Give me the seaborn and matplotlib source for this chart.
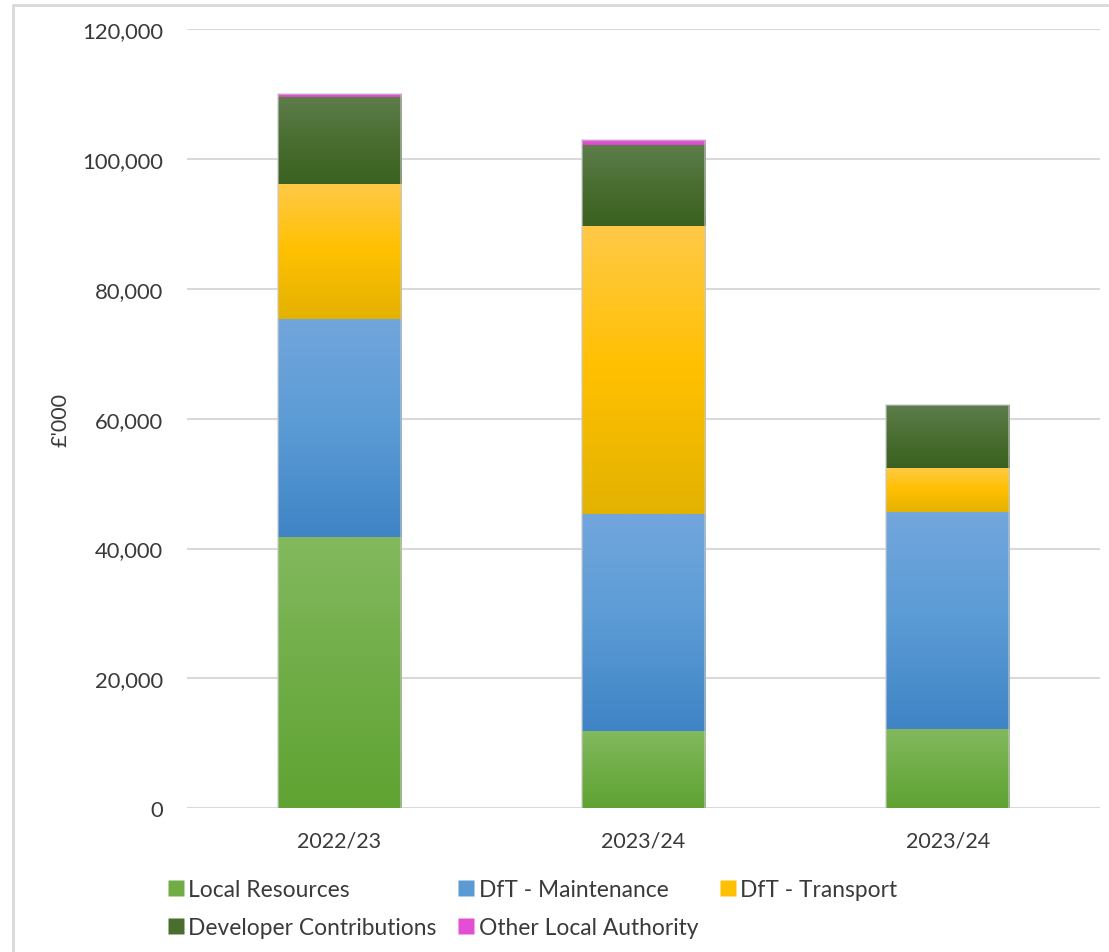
import numpy as np
import pandas as pd
import matplotlib
matplotlib.use("Agg")
import matplotlib.pyplot as plt
from matplotlib.colors import LinearSegmentedColormap
from matplotlib.lines import Line2D
from matplotlib.ticker import FuncFormatter
import seaborn as sns

# Capital funding by source, £'000
years = ["2022/23", "2023/24", "2023/24 "]
year_labels = ["2022/23", "2023/24", "2023/24"]
local_resources = [41700, 11850, 12200]
dft_maintenance = [33600, 33450, 33400]
dft_transport = [20800, 44300, 6800]
developer_contributions = [13400, 12550, 9750]
other_local_authority = [450, 700, 0]

series_names = ["Local Resources", "DfT - Maintenance", "DfT - Transport",
                "Developer Contributions", "Other Local Authority"]
series_values = [local_resources, dft_maintenance, dft_transport,
                 developer_contributions, other_local_authority]

# gradient stops (top, middle, bottom) and legend swatch colour per source
gradients = {
    "Local Resources": ("#82b95e", "#70ad47", "#5fa332"),
    "DfT - Maintenance": ("#72a6dd", "#5b9bd5", "#3f84c6"),
    "DfT - Transport": ("#ffc947", "#ffc000", "#e3b200"),
    "Developer Contributions": ("#5d7d4b", "#4a6e32", "#3a611f"),
    "Other Local Authority": ("#e35ad6", "#e050d2", "#d845c9"),
}
swatch = {
    "Local Resources": "#70ad47",
    "DfT - Maintenance": "#5b9bd5",
    "DfT - Transport": "#ffc000",
    "Developer Contributions": "#4a6e2f",
    "Other Local Authority": "#e34fd3",
}

sns.set_theme(style="white")
plt.rcParams["font.family"] = ["Lato", "DejaVu Sans"]
text_color = "#3a3a3a"
grid_color = "#d9d9d9"

fig = plt.figure(figsize=(11.09, 9.53), dpi=100)
ax = fig.add_axes([0.1686, 0.1508, 0.9919 - 0.1686, 0.9685 - 0.1508])

bottoms = np.zeros(len(years))
segments = []
for name, vals in zip(series_names, series_values):
    df = pd.DataFrame({"year": years, "value": vals})
    n_before = len(ax.patches)
    sns.barplot(data=df, x="year", y="value", order=years, width=0.405,
                bottom=bottoms.copy(), color=swatch[name], ax=ax,
                edgecolor="none", linewidth=0, zorder=3)
    for p, v in zip(ax.patches[n_before:], vals):
        segments.append((p, name, v))
    bottoms = bottoms + np.array(vals, dtype=float)

ax.set_xlim(-0.5, 2.5)
ax.set_ylim(0, 120000)

# Replace flat fills with vertical gradients clipped to each bar
grad = np.linspace(0, 1, 256).reshape(-1, 1)
for p, name, v in segments:
    if v <= 0:
        p.set_visible(False)
        continue
    cmap = LinearSegmentedColormap.from_list(name, list(gradients[name]))
    x0, y0 = p.get_x(), p.get_y()
    w, h = p.get_width(), p.get_height()
    im = ax.imshow(grad, cmap=cmap, aspect="auto", origin="upper",
                   extent=(x0, x0 + w, y0, y0 + h), zorder=3.5,
                   interpolation="bilinear")
    im.set_clip_path(p)
    p.set_facecolor("none")

# soft outline around each stacked column
for i in range(len(years)):
    col = [p for p, _, v in segments if v > 0 and abs(p.get_x() + p.get_width() / 2 - i) < 0.01]
    if col:
        x0 = col[0].get_x()
        w = col[0].get_width()
        ax.plot([x0, x0, x0 + w, x0 + w], [0, bottoms[i], bottoms[i], 0],
                color="#c8c8c8", lw=1.2, alpha=0.7, zorder=3.6,
                solid_joinstyle="miter")

ax.set_xlim(-0.5, 2.5)
ax.set_ylim(0, 120000)
ax.set_yticks(np.arange(0, 120001, 20000))
ax.yaxis.set_major_formatter(FuncFormatter(lambda v, _: f"{int(v):,}"))
ax.set_xticks(range(len(years)))
ax.set_xticklabels(year_labels)
ax.grid(axis="y", color=grid_color, lw=1.5, zorder=0)
ax.grid(axis="x", visible=False)
ax.set_axisbelow(True)
for s in ax.spines.values():
    s.set_visible(False)
ax.tick_params(axis="y", length=0, pad=17, labelsize=15.8, labelcolor=text_color)
ax.tick_params(axis="x", length=0, pad=16, labelsize=15.5, labelcolor=text_color)
ax.set_xlabel("")
ax.set_ylabel("£'000", fontsize=15.5, color=text_color, labelpad=0)
ax.yaxis.set_label_coords(-0.128, 0.5)

# legend: two rows, filled column-wise
order = ["Local Resources", "Developer Contributions", "DfT - Maintenance",
         "Other Local Authority", "DfT - Transport"]
handles = [Line2D([0], [0], marker="s", linestyle="none", markersize=11,
                  markerfacecolor=swatch[n], markeredgecolor="none", label=n)
           for n in order]
fig.legend(handles=handles, ncol=3, loc="upper left",
           bbox_to_anchor=(0.142, 0.086), frameon=False, fontsize=16.4,
           labelcolor=text_color, handletextpad=0.15, columnspacing=0.9,
           labelspacing=0.75, borderaxespad=0, handlelength=0.8)

# light frame along the top and left edges
fig.add_artist(Line2D([13 / 1109, 13 / 1109], [0, 1 - 6 / 953],
                      transform=fig.transFigure, color=grid_color, lw=2))
fig.add_artist(Line2D([13 / 1109, 1], [1 - 6 / 953, 1 - 6 / 953],
                      transform=fig.transFigure, color=grid_color, lw=2))

fig.savefig("out.png", dpi=100, facecolor="white")
